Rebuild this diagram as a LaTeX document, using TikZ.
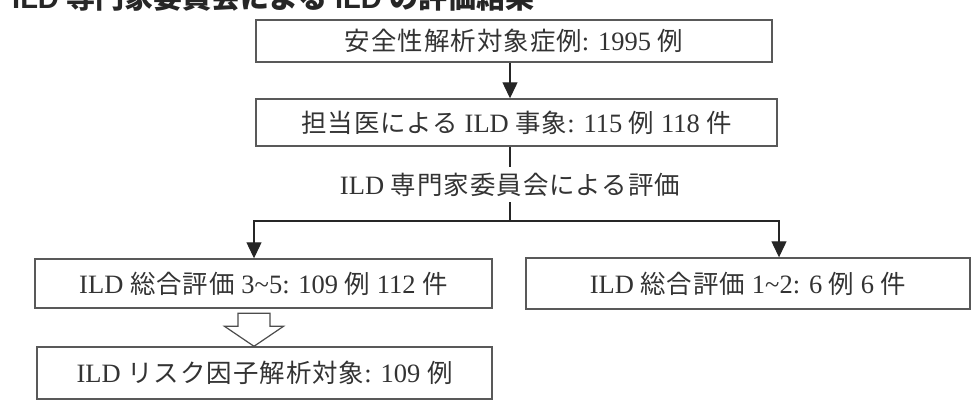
\documentclass[tikz,border=0pt]{standalone}
\usepackage{fontspec}
\setmainfont{Liberation Serif}
\newfontfamily\headfont{Liberation Sans}
\newfontfamily\jpfont[LetterSpace=4,Scale=0.96]{Noto Sans CJK JP}
\newfontfamily\jpheadfont{Noto Sans CJK JP}
\newcommand{\jp}[1]{{\jpfont#1}}
\newcommand{\jh}[1]{{\jpheadfont#1}}
\usetikzlibrary{arrows.meta}
\tikzset{
  flowbox/.style={draw=black!65,line width=1.4pt,inner sep=0pt,text=black!80,font=\fontsize{26.5}{30}\selectfont},
  flowline/.style={draw=black!85,line width=1.2pt},
  flowarrow/.style={flowline,-{Triangle[width=15pt,length=16pt]}},
  hollowarrow/.style={draw=black!70,line width=1.2pt,fill=white,line join=miter}
}
\begin{document}
\begin{tikzpicture}[x=1pt,y=-1pt]
\useasboundingbox (0,0) rectangle (979,409);
\node[anchor=base west,inner sep=0pt,text=black!85,font=\headfont\bfseries\fontsize{29}{33}\selectfont] (title) at (12,9) {ILD \jh{専門家委員会による} ILD \jh{の評価結果}};
\node[flowbox,minimum width=516pt,minimum height=42pt] (safety) at (514,41) {\jp{安全性解析対象症例}: 1995 \jp{例}};
\node[flowbox,minimum width=521pt,minimum height=47pt] (ildev) at (516.5,122.5) {\jp{担当医による} ILD \jp{事象}: 115 \jp{例} 118 \jp{件}};
\node[inner sep=0pt,minimum height=35pt,text=black!80,font=\fontsize{26.5}{30}\selectfont] (review) at (510,184.5) {ILD \jp{専門家委員会による評価}};
\node[flowbox,minimum width=457pt,minimum height=49pt] (grade35) at (263.5,283.5) {ILD \jp{総合評価} 3\textasciitilde5: 109 \jp{例} 112 \jp{件}};
\node[flowbox,minimum width=444pt,minimum height=51pt] (grade12) at (748,283.5) {ILD \jp{総合評価} 1\textasciitilde2: 6 \jp{例} 6 \jp{件}};
\node[flowbox,minimum width=455pt,minimum height=52pt] (riskset) at (264.5,373) {ILD \jp{リスク因子解析対象}: 109 \jp{例}};
\coordinate (split) at (510,221);\coordinate (lefttap) at (254,0);\coordinate (righttap) at (779,0);
\draw[flowarrow] (safety.south -| split) -- (ildev.north -| split);
\draw[flowline] (ildev.south -| split) -- (review.north -| split);\draw[flowline] (review.south -| split) -- (split);
\draw[flowarrow] (split) -| (grade35.north -| lefttap);\draw[flowarrow] (split) -| (grade12.north -| righttap);
\draw[hollowarrow] (riskset.north -| lefttap) -- ++(-29.5,-20) -- ++(13.5,0) -- ++(0,-13) -- ++(32,0) -- ++(0,13) -- ++(13.5,0) -- cycle;
\end{tikzpicture}
\end{document}
